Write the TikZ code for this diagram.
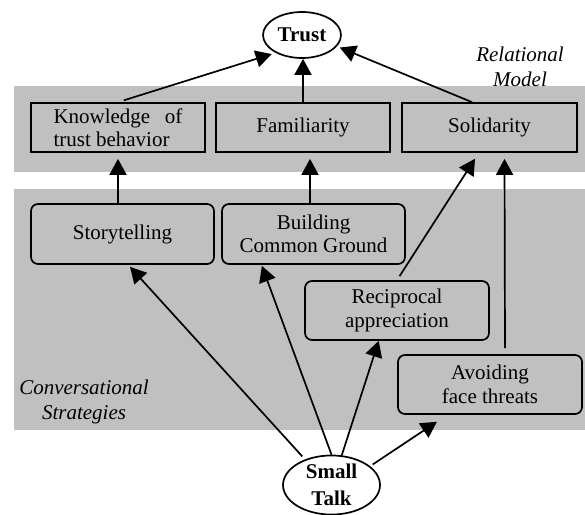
\documentclass[tikz,border=0pt]{standalone}
\usepackage{fontspec}
\setmainfont{Liberation Serif}
\usetikzlibrary{arrows.meta,shapes.geometric}
\definecolor{bandgray}{RGB}{192,192,192}
\begin{document}
\begin{tikzpicture}[x=1pt,y=-1pt,
  every node/.style={font=\fontsize{21}{23.5}\selectfont},
  band/.style={fill=bandgray, draw=none},
  sqbox/.style={draw, line width=1.7pt, minimum width=174pt, minimum height=49pt, inner sep=0pt, align=center},
  rbox/.style={draw, line width=1.7pt, rounded corners=7pt, minimum width=184pt, minimum height=59pt, inner sep=0pt, align=center},
  oval/.style={draw, ellipse, line width=1.7pt, inner sep=0pt, align=center, font=\fontsize{21}{27}\selectfont\bfseries},
  arr/.style={line width=1.7pt, -{Triangle[length=16pt,width=17pt]}},
  lbl/.style={align=center, font=\fontsize{21}{24.5}\selectfont\itshape}
]
\useasboundingbox (0,0) rectangle (585,514);
% bands
\fill[band] (14,86) rectangle (585,172);
\fill[band] (14,189) rectangle (585,430);
% labels
\node[lbl] (rel) at (520,67) {Relational\\Model};
\node[lbl] (conv) at (84,402) {Conversational\\Strategies};
% nodes
\node[oval, minimum width=78pt, minimum height=46pt] (trust) at (302,35) {Trust};
\node[sqbox, align=left] (know) at (118,127.5) {\hbox to 129pt{Knowledge\hfill of}\\trust behavior};
\node[sqbox] (fam) at (303,127.5) {Familiarity};
\node[sqbox, minimum width=175pt] (solid) at (489.5,127.5) {Solidarity};
\node[rbox, minimum width=183pt, minimum height=60pt] (story) at (122.5,234) {Storytelling};
\node[rbox, minimum width=183pt, minimum height=60pt] (build) at (313.5,234) {Building\\Common Ground};
\node[rbox] (recip) at (397,310.5) {Reciprocal\\appreciation};
\node[rbox] (avoid) at (490,384.5) {Avoiding\\face threats};
\node[oval, minimum width=97pt, minimum height=58pt] (small) at (331.5,485) {Small\\Talk};
% arrows
\draw[arr, shorten <=6pt, shorten >=4pt] (know.north) -- (trust.214);
\draw[arr] (fam.north) -- (fam.north |- trust.south);
\draw[arr, shorten >=3pt] ([xshift=-17.5pt]solid.north) -- (trust.342);
\draw[arr, shorten >=6pt] (know.south |- story.north) -- (know.south);
\draw[arr, shorten >=6pt] ([xshift=-3.5pt]build.north) -- ([xshift=-3.5pt]build.north |- fam.south);
\draw[arr, shorten <=4.7pt, shorten >=7pt] (recip.north) -- ([xshift=-10.7pt]solid.south);
\draw[arr, shorten <=6pt, shorten >=6pt] ([xshift=15pt]avoid.north) -- ([xshift=15pt]solid.south);
\draw[arr, shorten <=4pt, shorten >=2.7pt] (small.136) -- ([xshift=5.7pt]story.south);
\draw[arr, shorten >=1pt] (small.north) -- ([xshift=-52pt]build.south);
\draw[arr] (small.71) -- ([xshift=-18.3pt]recip.south);
\draw[arr, shorten <=3pt, shorten >=12.4pt] (small.26) -- ([xshift=-42.7pt]avoid.south);
\end{tikzpicture}
\end{document}
